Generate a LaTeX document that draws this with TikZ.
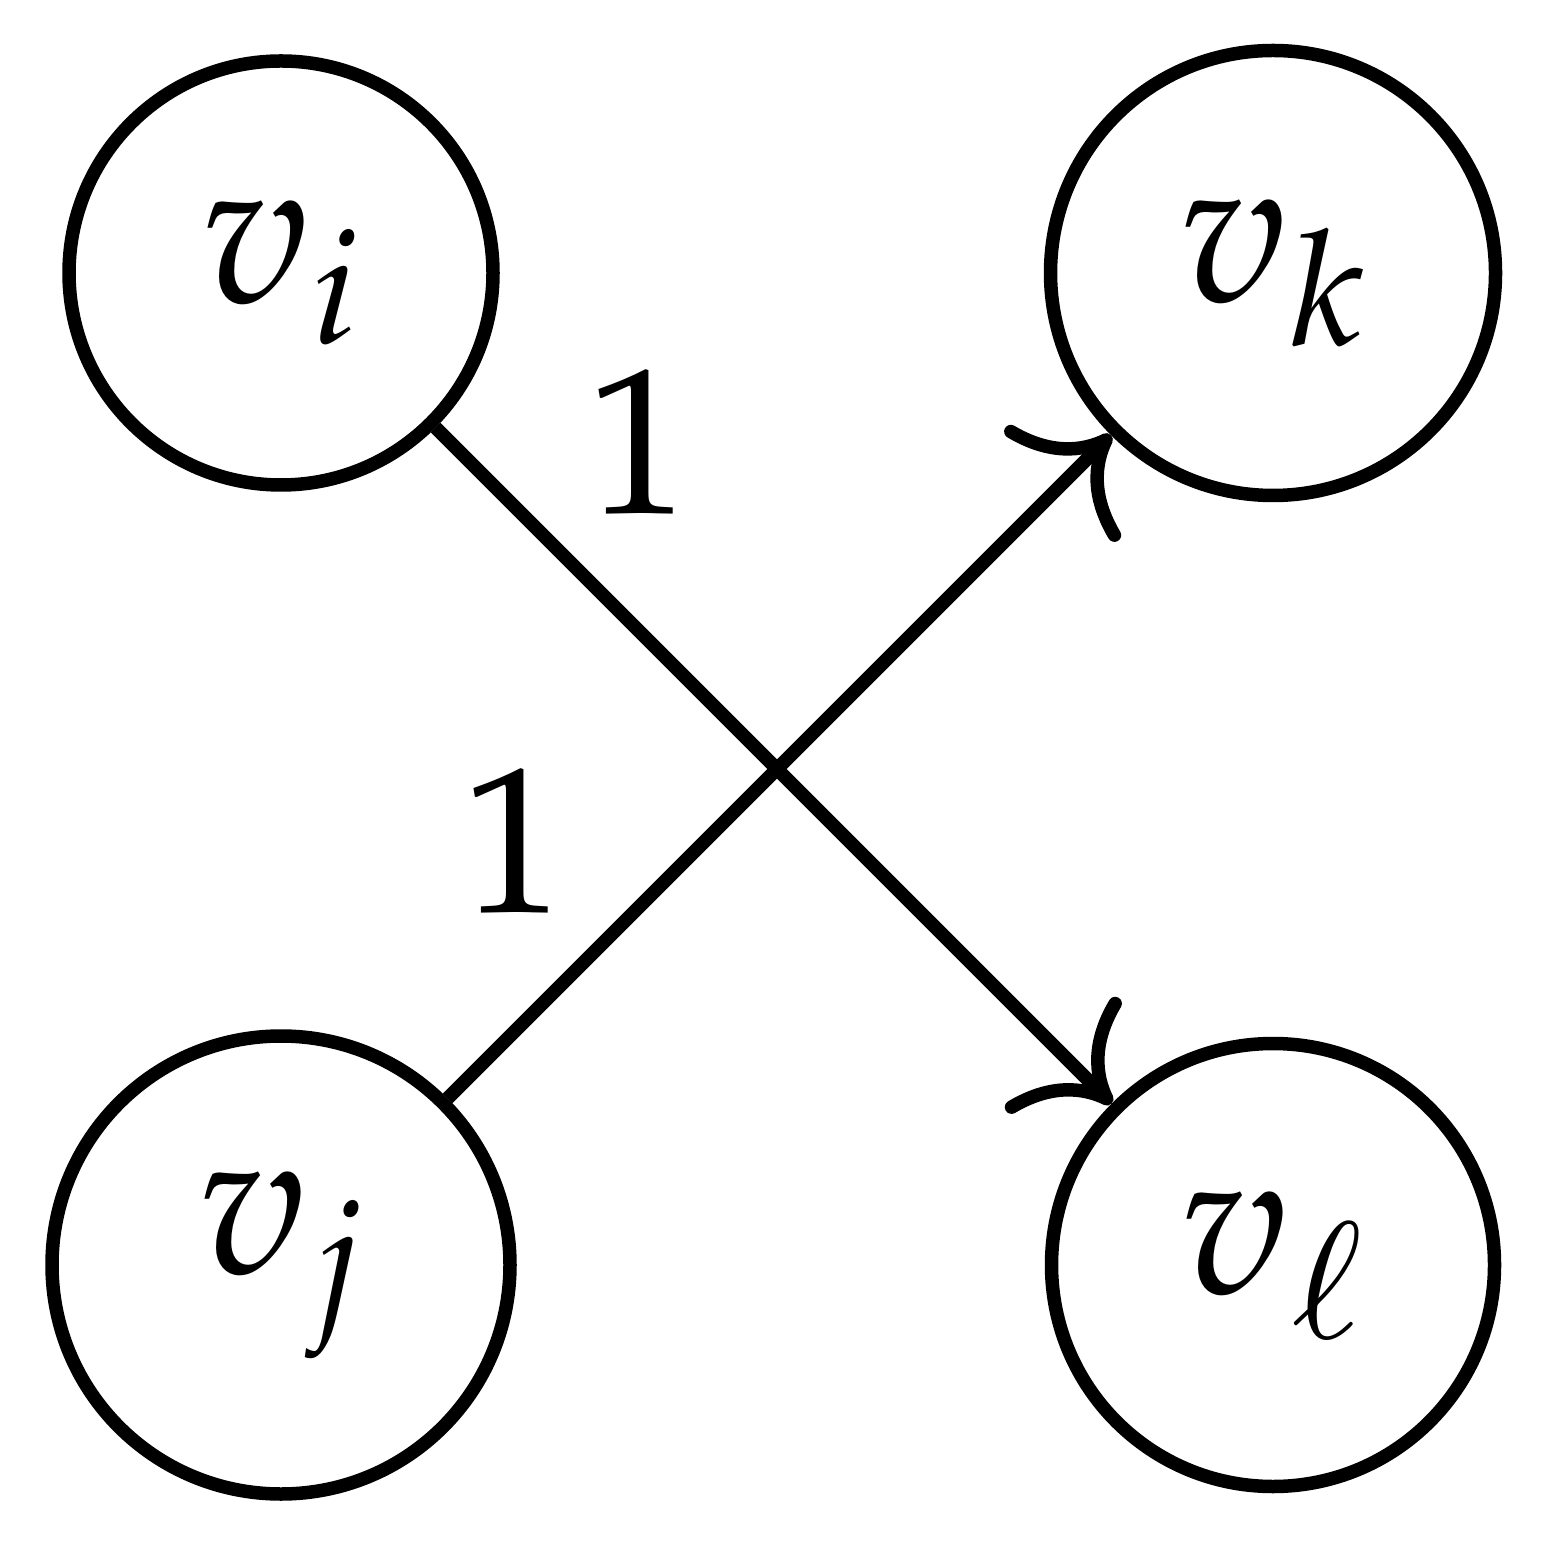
\documentclass[tikz,border=0pt]{standalone}
\usepackage{mathpazo}
\usetikzlibrary{arrows.meta}
\begin{document}
\begin{tikzpicture}[
  vert/.style={circle, draw, line width=0.135cm, inner sep=0pt, font=\fontsize{60}{72}\selectfont},
  conn/.style={line width=0.135cm, -{To[length=0.75cm, width=1.6cm]}},
  wlabel/.style={font=\fontsize{59}{70}\selectfont, inner sep=0pt}
]
\useasboundingbox (0,0) rectangle (15.6,15.5);
\node[vert, minimum size=4.24cm] (vi) at (2.81,12.77) {$v_i$};
\node[vert, minimum size=4.45cm] (vk) at (12.73,12.77) {$v_k$};
\node[vert, minimum size=4.58cm] (vj) at (2.81,2.85) {$v_j$};
\node[vert, minimum size=4.43cm] (vl) at (12.73,2.85) {$v_\ell$};
\draw[conn] (vi) -- node[wlabel, pos=0.16, shift={(0.94,0.94)}] (l1) {$1$} (vl);
\draw[conn] (vj) -- node[wlabel, pos=0.244, shift={(-0.96,0.96)}] (l2) {$1$} (vk);
\end{tikzpicture}
\end{document}
